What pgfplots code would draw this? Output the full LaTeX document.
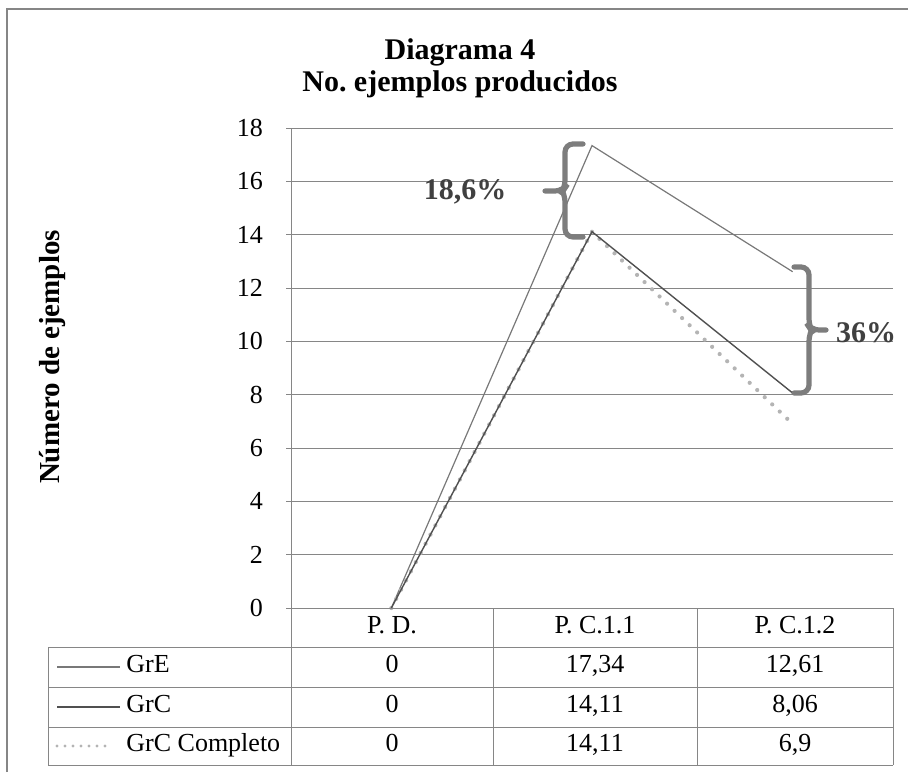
\documentclass[border=0pt]{standalone}
\usepackage{pgfplots}
\pgfplotsset{compat=1.18}
\usepackage{fontspec}
\setmainfont{Liberation Serif}
\frenchspacing
\definecolor{gridc}{RGB}{134,134,134}
\definecolor{gre}{RGB}{120,120,120}
\definecolor{grc}{RGB}{80,80,80}
\definecolor{grcc}{RGB}{180,180,180}
\definecolor{brc}{RGB}{125,125,125}
\definecolor{txt}{RGB}{64,64,64}
\begin{document}
\begin{tikzpicture}[x=0.5pt,y=0.5pt]
\useasboundingbox (0,0) rectangle (908,772);
% chart border
\draw[gridc, line width=1pt] (7,0) -- (7,{772-9}) -- (908,{772-9});
% title
\node[font=\fontsize{15}{16}\selectfont\bfseries, align=center] at (460,{772-68}) {Diagrama 4\\No. ejemplos producidos};
% y label
\node[rotate=90, font=\fontsize{14.5}{16}\selectfont\bfseries] at (53,{772-357}) {Número de ejemplos};
\begin{axis}[
  at={(145.5pt,82pt)}, anchor=south west, scale only axis,
  width=301pt, height=240pt,
  xmin=-0.5, xmax=2.5, ymin=0, ymax=18,
  ytick={0,2,...,18}, xtick=\empty,
  axis x line*=bottom, axis y line*=left,
  x axis line style={draw=none},
  y axis line style={draw=gridc, line width=0.5pt, -},
  ymajorgrids, grid style={draw=gridc, line width=0.5pt},
  tick align=outside, major tick length=2.5pt,
  ytick style={draw=gridc, line width=0.5pt},
  yticklabel style={font=\fontsize{13}{13}\selectfont, anchor=east, xshift=-8pt},
  /pgf/number format/assume math mode=true,
  clip=false,
]
\addplot[gre, line width=0.6pt] coordinates {(0,0) (1,17.34) (2,12.61)};
\addplot[grcc, line width=2.1pt, line cap=round, dash pattern=on 0pt off 5.2pt] coordinates {(0,0) (1,14.11) (2,6.9)};
\addplot[grc, line width=0.7pt] coordinates {(0,0) (1,14.11) (2,8.06)};
\end{axis}
% braces
\draw[brc, line width=2.6pt, rounded corners=4pt, line cap=round]
  (583,{772-144}) -- (565,{772-144}) -- (565,{772-188}) -- (563,{772-191}) -- (545,{772-191});
\draw[brc, line width=2.6pt, rounded corners=4pt, line cap=round]
  (583,{772-237}) -- (565,{772-237}) -- (565,{772-194}) -- (563,{772-191});
\draw[brc, line width=2.6pt, rounded corners=4pt, line cap=round]
  (794,{772-267}) -- (809,{772-267}) -- (809,{772-327}) -- (811,{772-330}) -- (826,{772-330});
\draw[brc, line width=2.6pt, rounded corners=4pt, line cap=round]
  (794,{772-393}) -- (809,{772-393}) -- (809,{772-333}) -- (811,{772-330});
\node[txt, font=\fontsize{15}{16}\selectfont\bfseries] at (465,{772-192}) {18,6\%};
\node[txt, font=\fontsize{15}{16}\selectfont\bfseries] at (866,{772-333}) {36\%};
% data table
\begin{scope}[gridc, line width=0.5pt]
\draw (291,{772-608}) -- (893,{772-608});
\foreach \yy in {647,687,727,765} {\draw (48,{772-\yy}) -- (893,{772-\yy});}
\foreach \xx in {291,493,697,893} {\draw (\xx,{772-608}) -- (\xx,{772-765});}
\draw (48,{772-647}) -- (48,{772-765});
\end{scope}
\begin{scope}[font=\fontsize{13}{13}\selectfont, every node/.append style={text height=1.6ex, text depth=0.35ex}]
\node at (392,{772-628}) {P. D.};
\node at (595,{772-628}) {P. C.1.1};
\node at (795,{772-628}) {P. C.1.2};
\node at (392,{772-667}) {0};
\node at (595,{772-667}) {17,34};
\node at (795,{772-667}) {12,61};
\node at (392,{772-707}) {0};
\node at (595,{772-707}) {14,11};
\node at (795,{772-707}) {8,06};
\node at (392,{772-746}) {0};
\node at (595,{772-746}) {14,11};
\node at (795,{772-746}) {6,9};
\node[anchor=west, inner sep=0pt] at (126,{772-667}) {GrE};
\node[anchor=west, inner sep=0pt] at (126,{772-707}) {GrC};
\node[anchor=west, inner sep=0pt] at (126,{772-746}) {GrC Completo};
\end{scope}
\draw[gre, line width=0.6pt] (57,{772-667}) -- (120,{772-667});
\draw[grc, line width=0.7pt] (57,{772-707}) -- (120,{772-707});
\draw[grcc, line width=1.7pt, line cap=round, dash pattern=on 0pt off 4pt] (57,{772-746}) -- (112,{772-746});
\end{tikzpicture}
\end{document}
